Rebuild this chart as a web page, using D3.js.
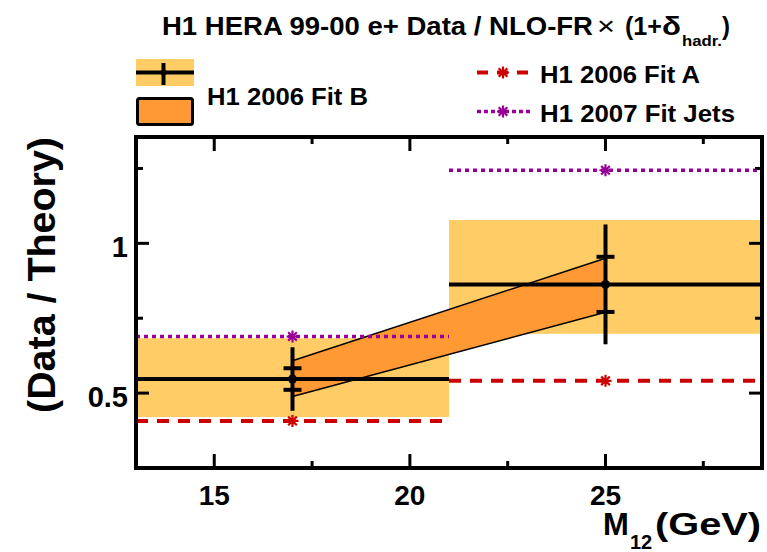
<!DOCTYPE html>
<html><head><meta charset="utf-8">
<script src="https://cdn.jsdelivr.net/npm/d3@7"></script>
<style>body{margin:0;background:#fff}svg{display:block}text{font-family:"Liberation Sans",Arial,sans-serif}</style>
</head><body>
<script>
// ---- data ----
const binLo = [13, 21];
const binHi = [21, 29];
const binCenter = [17, 25];
const dataVal = [0.547, 0.863];
const statErr = [0.036, 0.092];
const totErr = [0.106, 0.200];
const bandLo = [0.420, 0.698];
const bandHi = [0.683, 1.078];
const fitBx = [17, 25];
const fitBLo = [0.489, 0.770];
const fitBHi = [0.608, 0.950];
const fitA = [0.407, 0.541];
const fitJets = [0.689, 1.244];
const xMajor = [15, 20, 25];
const xMinor = [17.5, 22.5, 27.5];
const yMajor = [0.5, 1];
const yMinor = [0.75, 1.25];
const yLabels = ["0.5", "1"];

const W = 767, H = 552;
const svg = d3.select("body").append("svg").attr("width", W).attr("height", H);
const x = d3.scaleLinear().domain([13, 29]).range([136, 762]);
const y = d3.scaleLinear().domain([0.25, 1.355]).range([468, 137]);

const cYellow = "#ffcc66", cOrange = "#ff9933", cRed = "#cc0000", cPurple = "#990099";

// yellow bands
svg.selectAll("rect.band").data(binLo).join("rect")
  .attr("x", (d,i) => x(binLo[i])).attr("width", (d,i) => x(binHi[i]) - x(binLo[i]))
  .attr("y", (d,i) => y(bandHi[i])).attr("height", (d,i) => y(bandLo[i]) - y(bandHi[i]))
  .attr("fill", cYellow);

// Fit B band
const bandPts = fitBx.map((d,i)=>[x(d), y(fitBHi[i])]).concat(fitBx.map((d,i)=>[x(d), y(fitBLo[i])]).reverse());
svg.append("path").attr("d", d3.line()(bandPts) + "Z").attr("fill", cOrange);
svg.append("path").attr("d", d3.line()(fitBx.map((d,i)=>[x(d), y(fitBHi[i])]))).attr("stroke","#000").attr("stroke-width",1.5).attr("fill","none");
svg.append("path").attr("d", d3.line()(fitBx.map((d,i)=>[x(d), y(fitBLo[i])]))).attr("stroke","#000").attr("stroke-width",1.5).attr("fill","none");

// fit lines
function star(g, cx, cy, col, r) {
  const a = r*0.72;
  g.append("path").attr("d", `M${cx-r},${cy}H${cx+r}M${cx},${cy-r}V${cy+r}M${cx-a},${cy-a}L${cx+a},${cy+a}M${cx-a},${cy+a}L${cx+a},${cy-a}`)
    .attr("stroke", col).attr("stroke-width", 2.2).attr("fill","none");
}
function fitLines(vals, col, dash, sw) {
  binLo.forEach((d,i) => {
    svg.append("line").attr("x1", x(binLo[i])).attr("x2", x(binHi[i]))
      .attr("y1", y(vals[i])).attr("y2", y(vals[i]))
      .attr("stroke", col).attr("stroke-width", sw).attr("stroke-dasharray", dash);
    star(svg, x(binCenter[i]), y(vals[i]), col, 6);
  });
}
fitLines(fitA, cRed, "12,9", 4);
fitLines(fitJets, cPurple, "4,4", 3.5);

// data
binLo.forEach((d,i) => {
  svg.append("line").attr("x1", x(binLo[i])).attr("x2", x(binHi[i]))
    .attr("y1", y(dataVal[i])).attr("y2", y(dataVal[i])).attr("stroke","#000").attr("stroke-width",4);
  svg.append("line").attr("x1", x(binCenter[i])).attr("x2", x(binCenter[i]))
    .attr("y1", y(dataVal[i]+totErr[i])).attr("y2", y(dataVal[i]-totErr[i])).attr("stroke","#000").attr("stroke-width",4);
  [1,-1].forEach(s => {
    svg.append("line").attr("x1", x(binCenter[i])-9).attr("x2", x(binCenter[i])+9)
      .attr("y1", y(dataVal[i]+s*statErr[i])).attr("y2", y(dataVal[i]+s*statErr[i])).attr("stroke","#000").attr("stroke-width",4);
  });
  svg.append("circle").attr("cx", x(binCenter[i])).attr("cy", y(dataVal[i])).attr("r", 4.5).attr("fill","#000");
});

// frame & ticks
svg.append("rect").attr("x",136).attr("y",137).attr("width",626).attr("height",331)
  .attr("fill","none").attr("stroke","#000").attr("stroke-width",4);
const tk = svg.append("g").attr("stroke","#000").attr("stroke-width",3);
xMajor.forEach(v => {
  tk.append("line").attr("x1",x(v)).attr("x2",x(v)).attr("y1",468).attr("y2",454);
  tk.append("line").attr("x1",x(v)).attr("x2",x(v)).attr("y1",137).attr("y2",151);
});
xMinor.forEach(v => {
  tk.append("line").attr("x1",x(v)).attr("x2",x(v)).attr("y1",468).attr("y2",461);
  tk.append("line").attr("x1",x(v)).attr("x2",x(v)).attr("y1",137).attr("y2",144);
});
yMajor.forEach(v => {
  tk.append("line").attr("x1",136).attr("x2",149).attr("y1",y(v)).attr("y2",y(v));
  tk.append("line").attr("x1",762).attr("x2",749).attr("y1",y(v)).attr("y2",y(v));
});
yMinor.forEach(v => {
  tk.append("line").attr("x1",136).attr("x2",143).attr("y1",y(v)).attr("y2",y(v));
  tk.append("line").attr("x1",762).attr("x2",755).attr("y1",y(v)).attr("y2",y(v));
});

// tick labels
svg.selectAll("text.xl").data(xMajor).join("text").attr("class","xl")
  .attr("x", d => x(d)).attr("y", 505).attr("text-anchor","middle")
  .attr("font-size", 28).attr("font-weight","bold").text(d => d);
svg.selectAll("text.yl").data(yMajor).join("text").attr("class","yl")
  .attr("x", 128).attr("y", d => y(d) + 14).attr("text-anchor","end")
  .attr("font-size", 29).attr("font-weight","bold").text((d,i) => yLabels[i]);

// axis titles
svg.append("text").attr("transform","translate(55,275) rotate(-90)").attr("text-anchor","middle")
  .attr("font-size",38).attr("font-weight","bold").attr("textLength",276).attr("lengthAdjust","spacingAndGlyphs")
  .text("(Data / Theory)");
svg.append("text").attr("x",603).attr("y",535).attr("font-size",31).attr("font-weight","bold").text("M");
svg.append("text").attr("x",630).attr("y",549).attr("font-size",20).attr("font-weight","bold").text("12");
svg.append("text").attr("x",655).attr("y",535).attr("font-size",31).attr("font-weight","bold")
  .attr("textLength",106).attr("lengthAdjust","spacingAndGlyphs").text("(GeV)");

// title
const tt = (t, xx, yy, fs, tl, fw) => {
  const e = svg.append("text").attr("x",xx).attr("y",yy).attr("font-size",fs).attr("font-weight",fw||"bold").text(t);
  if (tl) e.attr("textLength",tl).attr("lengthAdjust","spacingAndGlyphs");
  return e;
};
tt("H1 HERA 99-00 e+ Data / NLO-FR", 162, 35, 25, 431);
tt("\u00d7", 597, 35, 25, 18, "normal");
tt("(1+", 625, 35, 25, 37);
tt("\u03b4", 662, 35, 25, 19);
tt("hadr.", 682, 46, 15, 40);
tt(")", 722, 35, 25, 8);

// legend
svg.append("rect").attr("x",136).attr("y",59).attr("width",58).attr("height",27).attr("fill",cYellow);
svg.append("line").attr("x1",136).attr("x2",194).attr("y1",72.5).attr("y2",72.5).attr("stroke","#000").attr("stroke-width",4);
svg.append("line").attr("x1",163.5).attr("x2",163.5).attr("y1",63).attr("y2",85).attr("stroke","#000").attr("stroke-width",4);
svg.append("circle").attr("cx",163.5).attr("cy",72.5).attr("r",3).attr("fill","#000");
svg.append("rect").attr("x",137.5).attr("y",98.5).attr("width",55).attr("height",26).attr("rx",2)
  .attr("fill",cOrange).attr("stroke","#000").attr("stroke-width",3);
tt("H1 2006 Fit B", 207, 105, 24, 161);
svg.append("line").attr("x1",477).attr("x2",530).attr("y1",72.5).attr("y2",72.5).attr("stroke",cRed).attr("stroke-width",4).attr("stroke-dasharray","11,9");
star(svg, 503, 72.5, cRed, 6);
tt("H1 2006 Fit A", 540, 83, 24, 160);
svg.append("line").attr("x1",477).attr("x2",530).attr("y1",111.5).attr("y2",111.5).attr("stroke",cPurple).attr("stroke-width",3.5).attr("stroke-dasharray","4,3");
star(svg, 503, 111.5, cPurple, 6);
tt("H1 2007 Fit Jets", 540, 122, 24, 195);
</script>
</body></html>
